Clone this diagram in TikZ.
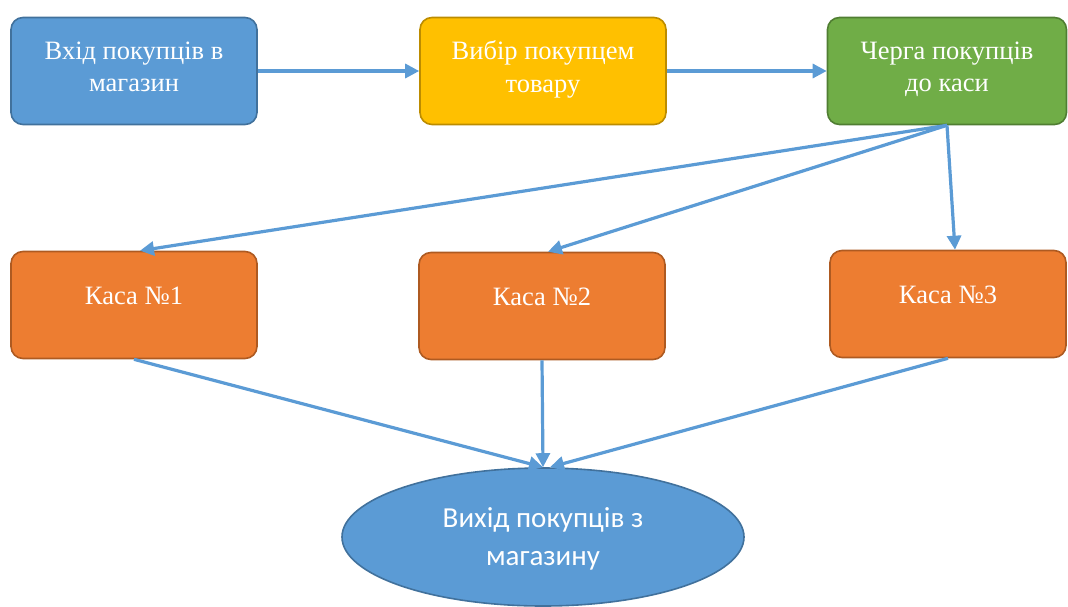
\documentclass[tikz,border=0pt]{standalone}
\usepackage{fontspec}
\setmainfont{Liberation Serif}
\newfontfamily\calfont{Carlito}
\usetikzlibrary{shapes.geometric,arrows.meta,calc}
\definecolor{cblue}{HTML}{5B9BD5}
\definecolor{cblueD}{HTML}{41719C}
\definecolor{cyel}{HTML}{FFC000}
\definecolor{cyelD}{HTML}{BC8C00}
\definecolor{cgrn}{HTML}{70AD47}
\definecolor{cgrnD}{HTML}{507E32}
\definecolor{corg}{HTML}{ED7D31}
\definecolor{corgD}{HTML}{AE5A21}
\tikzset{
  boxnode/.style={rectangle, rounded corners=12pt, line width=1.6pt,
    minimum width=246pt, minimum height=107pt, text=white, align=center,
    inner sep=0pt, text depth=9pt, font=\fontsize{26.5}{32.5}\selectfont},
  kasa/.style={boxnode, fill=corg, draw=corgD, text depth=18pt},
  flow/.style={draw=cblue, line width=3.2pt, -{Triangle[length=14pt,width=14pt]}},
}
\begin{document}
\begin{tikzpicture}[x=1pt,y=-1pt]
\useasboundingbox (0,0) rectangle (1068,606);
\node[boxnode, fill=cblue, draw=cblueD] (a) at (134,71) {Вхід покупців в\\магазин};
\node[boxnode, fill=cyel, draw=cyelD] (b) at (543,71) {Вибір покупцем\\товару};
\node[boxnode, fill=cgrn, draw=cgrnD, minimum width=239pt] (c) at (947,71) {Черга покупців\\до каси};
\node[kasa] (k1) at (134,305) {Каса №1};
\node[kasa] (k2) at (542,306) {Каса №2};
\node[kasa, minimum width=236pt] (k3) at (948,304) {Каса №3};
\node[ellipse, fill=cblue, draw=cblueD, line width=1.6pt, minimum width=402pt,
  minimum height=138pt, text=white, align=center, inner sep=0pt, text depth=0pt,
  font=\calfont\fontsize{29}{38}\selectfont] (e) at (543,537) {Вихід покупців з\\магазину};
\draw[flow] (a.east) -- (b.west);
\draw[flow] (b.east) -- (c.west);
\draw[flow] (c.south) -- ($(k1.north)+(6,0)$);
\draw[flow] (c.south) -- ($(k2.north)+(6,0)$);
\draw[flow] (c.south) -- ($(k3.north)+(7,0)$);
\draw[flow] (k1.south) -- (e.north);
\draw[flow] (k2.south) -- (e.north);
\draw[flow] (k3.south) -- ($(e.north)+(7,0)$);
\end{tikzpicture}
\end{document}
